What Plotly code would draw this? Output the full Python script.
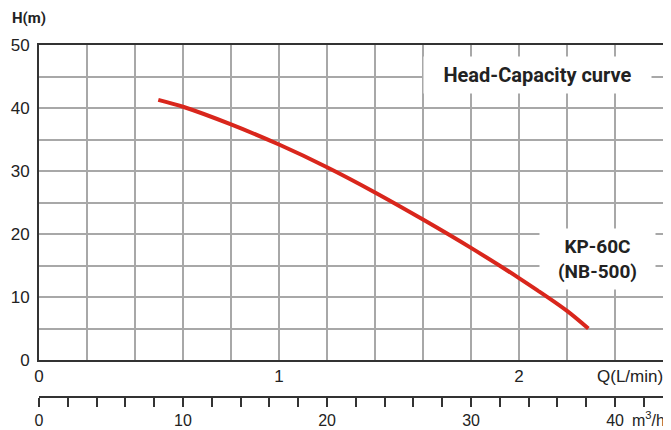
import plotly.graph_objects as go

# Data
q_flow = [0.497, 0.60, 0.80, 1.00, 1.20, 1.40, 1.60, 1.80, 2.00, 2.20, 2.289]
head_m = [41.3, 40.2, 37.4, 34.2, 30.6, 26.6, 22.3, 17.8, 13.0, 7.8, 5.0]

q_ticks = [0, 1, 2]
h_ticks = [0, 10, 20, 30, 40, 50]
m3h_ticks = list(range(0, 43, 2))
m3h_labels = [str(v) if v % 10 == 0 else "" for v in m3h_ticks]

RED = "#d9261c"
GRID = "#a8a8a8"
FRAME = "#333333"
TXT = "#222222"
NUMFONT = "Liberation Sans, Arial, sans-serif"
BOLDFONT = "Roboto, Arial, sans-serif"

# The page body adds an 8px offset; the figure is sized to fill the rest.
OFF = 8
W, H = 671 - OFF, 430 - OFF
# plot area in reference pixels: x 39..663, y 45..360
ml = 39 - OFF
mr = W - (663 - OFF)
mt = 45 - OFF
mb = 12
plot_w = W - ml - mr
paper_h = H - mt - mb
ydom0 = (H - mb - (360 - OFF)) / paper_h
x2pos = (H - mb - (397 - OFF)) / paper_h


def px_x(px):
    return (px - OFF - ml) / plot_w


def px_y(py):
    return (H - mb - (py - OFF)) / paper_h


fig = go.Figure()
fig.add_trace(go.Scatter(x=q_flow, y=head_m, mode="lines",
                         line=dict(color=RED, width=4, shape="spline", smoothing=0.8),
                         hoverinfo="skip", showlegend=False))
# dummy trace to attach the secondary m3/h axis
fig.add_trace(go.Scatter(x=[0, 43.33], y=[None, None], xaxis="x2", mode="lines",
                         hoverinfo="skip", showlegend=False))

fig.update_layout(
    width=W, height=H,
    margin=dict(l=ml, r=mr, t=mt, b=mb, autoexpand=False),
    paper_bgcolor="white", plot_bgcolor="white",
    showlegend=False,
    xaxis=dict(range=[0, 2.6], tickmode="array", tickvals=q_ticks,
               ticktext=[str(v) for v in q_ticks],
               showgrid=True, gridcolor=GRID, gridwidth=1.5,
               minor=dict(dtick=0.2, tick0=0, showgrid=True, gridcolor=GRID, gridwidth=1.5),
               showline=True, linecolor=FRAME, linewidth=2, mirror=True,
               ticks="", zeroline=False, automargin=False,
               tickfont=dict(family=NUMFONT, size=17, color=TXT),
               fixedrange=True),
    yaxis=dict(range=[0, 50], domain=[ydom0, 1], tickmode="array", tickvals=h_ticks,
               showgrid=True, gridcolor=GRID, gridwidth=1.5,
               minor=dict(dtick=5, tick0=0, showgrid=True, gridcolor=GRID, gridwidth=1.5),
               showline=True, linecolor=FRAME, linewidth=2, mirror=True,
               ticks="", zeroline=False, ticklabelstandoff=4, automargin=False,
               tickfont=dict(family=NUMFONT, size=17, color=TXT),
               fixedrange=True),
    xaxis2=dict(range=[0, 43.33], overlaying="x", anchor="free", position=x2pos,
                side="bottom", tickmode="array", tickvals=m3h_ticks, ticktext=m3h_labels,
                ticks="outside", ticklen=9, tickwidth=1.5, tickcolor=FRAME,
                showline=True, linecolor=FRAME, linewidth=1.5,
                showgrid=False, zeroline=False, automargin=False,
                tickfont=dict(family=NUMFONT, size=16, color=TXT),
                fixedrange=True),
)

fig.add_annotation(text="<b>H(m)</b>", xref="paper", yref="paper",
                   x=px_x(10), y=px_y(18), xanchor="left", yanchor="middle",
                   showarrow=False, font=dict(family=BOLDFONT, size=15, color=TXT))
fig.add_annotation(text="<b>Head-Capacity curve</b>", x=(1.608 + 2.546) / 2, y=45.2,
                   xref="x", yref="y", showarrow=False, bgcolor="white",
                   width=225, height=34,
                   font=dict(family=BOLDFONT, size=20, color=TXT))
fig.add_annotation(text="<b>KP-60C<br>(NB-500)</b>", x=2.325, y=16.0,
                   xref="x", yref="y", showarrow=False, bgcolor="white",
                   width=113, height=58,
                   font=dict(family=BOLDFONT, size=19, color=TXT))
fig.add_annotation(text="Q(L/min)", x=px_x(665), y=px_y(376),
                   xref="paper", yref="paper", xanchor="right", yanchor="middle",
                   showarrow=False, font=dict(family=NUMFONT, size=17, color=TXT))
fig.add_annotation(text="m<sup>3</sup>/h", x=px_x(667), y=px_y(419),
                   xref="paper", yref="paper", xanchor="right", yanchor="middle",
                   showarrow=False, font=dict(family=NUMFONT, size=16, color=TXT))

fig.write_html("out.html")
